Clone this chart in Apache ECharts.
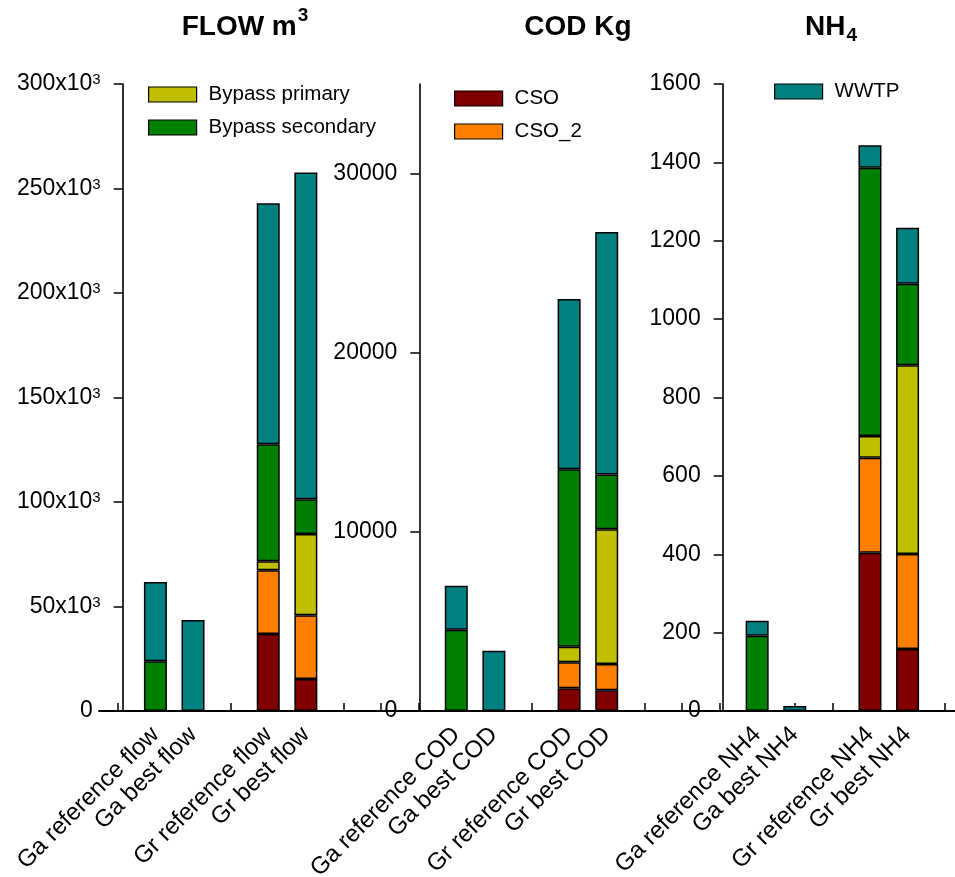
<!DOCTYPE html>
<html>
<head>
<meta charset="utf-8">
<script src="https://cdn.jsdelivr.net/npm/echarts@6/dist/echarts.min.js"></script>
<style>
html, body { margin: 0; padding: 0; background: #ffffff; }
#chart { width: 955px; height: 877px; }
</style>
</head>
<body>
<div id="chart"></div>
<script>
// Shared category axis: blank slots separate the groups and panels
const categories = [
  '', 'Ga reference flow', 'Ga best flow', '', 'Gr reference flow', 'Gr best flow',
  '', '', '',
  'Ga reference COD', 'Ga best COD', '', 'Gr reference COD', 'Gr best COD',
  '', '', '',
  'Ga reference NH4', 'Ga best NH4', '', 'Gr reference NH4', 'Gr best NH4', ''
];

// Category slots used by each panel: [Ga reference, Ga best, Gr reference, Gr best]
const flowSlots = [1, 2, 4, 5];
const codSlots = [9, 10, 12, 13];
const nh4Slots = [17, 18, 20, 21];

// FLOW (m3)
const flowCSO       = [0, 0, 36800, 15300];
const flowCSO2      = [0, 0, 30500, 30500];
const flowPrimary   = [0, 0, 4300, 38900];
const flowSecondary = [23800, 0, 56000, 16600];
const flowWWTP      = [37900, 43500, 115300, 156400];

// COD (Kg)
const codCSO       = [0, 0, 1265, 1153];
const codCSO2      = [0, 0, 1450, 1468];
const codPrimary   = [0, 0, 872, 7530];
const codSecondary = [4534, 0, 9910, 3050];
const codWWTP      = [2455, 3363, 9498, 13531];

// NH4
const nh4CSO       = [0, 0, 404, 158];
const nh4CSO2      = [0, 0, 242, 242.5];
const nh4Primary   = [0, 0, 55.5, 481.5];
const nh4Secondary = [192, 0, 684.5, 208];
const nh4WWTP      = [38, 13, 58, 143];

// Tick values
const flowTicks = [0, 50000, 100000, 150000, 200000, 250000, 300000];
const codTicks = [0, 10000, 20000, 30000];
const nh4Ticks = [0, 200, 400, 600, 800, 1000, 1200, 1400, 1600];

const componentNames = ['CSO', 'CSO_2', 'Bypass primary', 'Bypass secondary', 'WWTP'];
const componentColors = ['#800000', '#ff8000', '#c0c000', '#008000', '#008080'];

// Panel titles: main text plus a raised or lowered index
const titles = [
  { text: 'FLOW m', small: '3', cx: 245, raise: true },
  { text: 'COD Kg', small: '', cx: 578, raise: false },
  { text: 'NH', small: '4', cx: 831, raise: false }
];

const FONT = 'Liberation Sans, Arial, Helvetica, sans-serif';

function slotData(values, slots) {
  const arr = categories.map(() => '-');
  slots.forEach((s, k) => { arr[s] = values[k]; });
  return arr;
}

const panels = [
  { slots: flowSlots, stack: 'flow', axis: 0, values: [flowCSO, flowCSO2, flowPrimary, flowSecondary, flowWWTP] },
  { slots: codSlots,  stack: 'cod',  axis: 1, values: [codCSO, codCSO2, codPrimary, codSecondary, codWWTP] },
  { slots: nh4Slots,  stack: 'nh4',  axis: 2, values: [nh4CSO, nh4CSO2, nh4Primary, nh4Secondary, nh4WWTP] }
];

const series = [];
panels.forEach(p => {
  p.values.forEach((vals, i) => {
    series.push({
      type: 'bar',
      name: componentNames[i],
      stack: p.stack,
      yAxisIndex: p.axis,
      xAxisIndex: 0,
      barWidth: 23,
      barGap: '-100%',
      data: slotData(vals, p.slots),
      itemStyle: { color: componentColors[i], borderColor: '#000', borderWidth: 1.5 },
      emphasis: { disabled: true },
      animation: false
    });
  });
});

function makeYAxis(offset, max, interval, ticks, formatter) {
  return {
    type: 'value',
    position: 'left',
    offset: offset,
    min: 0,
    max: max,
    interval: interval,
    splitLine: { show: false },
    axisLine: { show: true, lineStyle: { color: '#000', width: 1.6 } },
    axisTick: { show: true, inside: false, length: 9, lineStyle: { color: '#000', width: 1.5 }, customValues: ticks },
    axisLabel: {
      show: true, color: '#000', fontSize: 23, fontFamily: FONT, margin: 22,
      customValues: ticks,
      formatter: formatter,
      rich: {
        sup: { fontSize: 15, fontFamily: FONT, color: '#000', verticalAlign: 'top' },
        z: { fontSize: 23, fontFamily: FONT, color: '#000', padding: [0, 8, 0, 0] }
      }
    }
  };
}

const legendBase = {
  orient: 'vertical',
  icon: 'rect',
  itemWidth: 48,
  itemHeight: 15,
  itemGap: 12,
  padding: 0,
  selectedMode: false,
  itemStyle: { borderColor: '#000', borderWidth: 1.2 },
  textStyle: { color: '#000', fontSize: 20.5, fontFamily: FONT, lineHeight: 15, padding: [0, 0, 0, 7] }
};

// Title layout: measure text so the main part and its index sit together, centred
const measureCtx = document.createElement('canvas').getContext('2d');
function textWidth(str, size) {
  measureCtx.font = 'bold ' + size + 'px ' + FONT;
  return measureCtx.measureText(str).width;
}
const titleGraphics = [];
titles.forEach(t => {
  const wMain = textWidth(t.text, 28);
  const wSmall = t.small ? textWidth(t.small, 19) + 1 : 0;
  const x0 = t.cx - (wMain + wSmall) / 2;
  titleGraphics.push({
    type: 'text', x: x0, y: 13,
    style: { text: t.text, align: 'left', verticalAlign: 'top', fontSize: 28, fontWeight: 'bold', fontFamily: FONT, fill: '#000' }
  });
  if (t.small) {
    titleGraphics.push({
      type: 'text', x: x0 + wMain + 1, y: t.raise ? 6 : 26,
      style: { text: t.small, align: 'left', verticalAlign: 'top', fontSize: 19, fontWeight: 'bold', fontFamily: FONT, fill: '#000' }
    });
  }
});

const option = {
  animation: false,
  backgroundColor: '#ffffff',
  grid: { left: 99, top: 84, width: 865, height: 627, containLabel: false, outerBoundsMode: 'none' },
  xAxis: {
    type: 'category',
    data: categories,
    axisLine: { show: true, lineStyle: { color: '#000', width: 2 } },
    axisTick: { show: true, inside: true, length: 8, interval: 0, alignWithLabel: true, lineStyle: { color: '#000', width: 1.5 } },
    axisLabel: { interval: 0, rotate: 45, margin: 20, color: '#000', fontSize: 24, fontFamily: FONT },
    splitLine: { show: false }
  },
  yAxis: [
    makeYAxis(-23.7, 300000, 50000, flowTicks, v => v === 0 ? '{z|0}' : (v / 1000) + 'x10{sup|3}'),
    makeYAxis(-320.3, 35000, 10000, codTicks, v => String(v)),
    makeYAxis(-623.7, 1600, 200, nh4Ticks, v => String(v))
  ],
  legend: [
    Object.assign({}, legendBase, { data: ['Bypass primary', 'Bypass secondary'], left: 148, top: 84 }),
    Object.assign({}, legendBase, { data: ['CSO', 'CSO_2'], left: 454, top: 88 }),
    Object.assign({}, legendBase, { data: ['WWTP'], left: 774, top: 81 })
  ],
  graphic: titleGraphics,
  series: series
};

const chart = echarts.init(document.getElementById('chart'), null, { renderer: 'canvas' });
chart.setOption(option);
</script>
</body>
</html>
